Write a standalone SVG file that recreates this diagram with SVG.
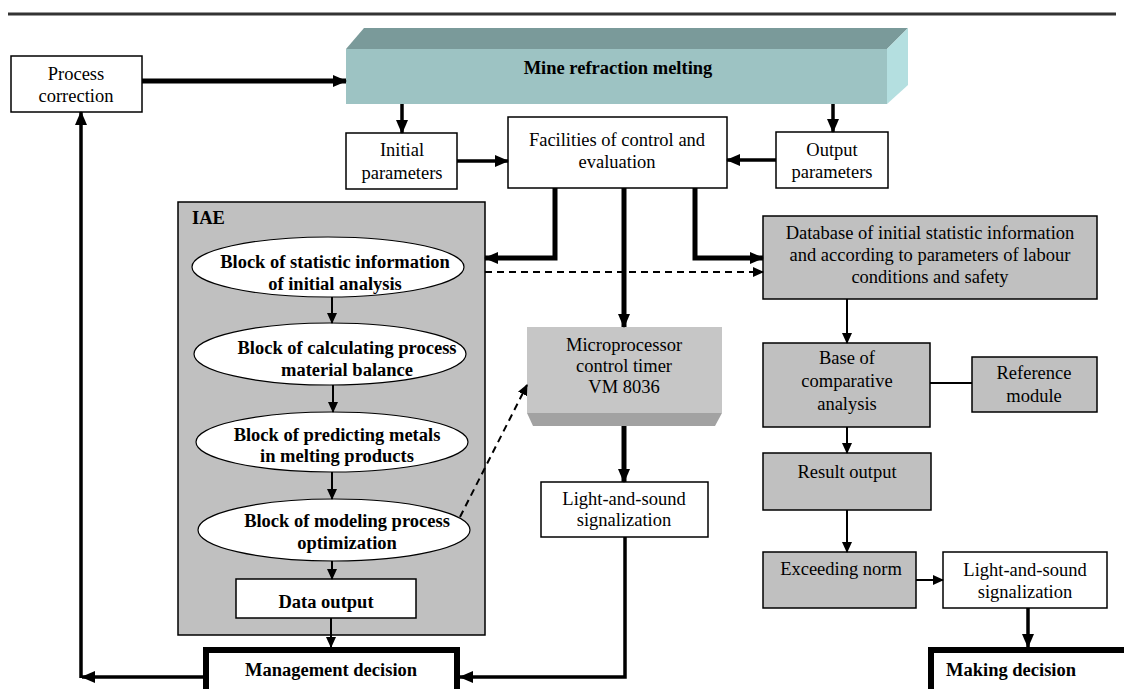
<svg xmlns="http://www.w3.org/2000/svg" width="1124" height="689" viewBox="0 0 1124 689">
<defs>
<marker id="ah" markerUnits="userSpaceOnUse" markerWidth="14" markerHeight="12" refX="13" refY="6" orient="auto"><path d="M0,0 L14,6 L0,12 Z" fill="#000"/></marker>
<marker id="ahs" markerUnits="userSpaceOnUse" markerWidth="11" markerHeight="10" refX="10" refY="5" orient="auto"><path d="M0,0 L11,5 L0,10 Z" fill="#000"/></marker>
</defs>
<style>
.t{font-family:"Liberation Serif",serif;font-size:18.5px}
.tb{font-family:"Liberation Serif",serif;font-size:18.5px;font-weight:bold}
.box{fill:#fff;stroke:#000;stroke-width:1.5}
.gbox{fill:#C0C0C0;stroke:#000;stroke-width:1.5}
.ell{fill:#fff;stroke:#000;stroke-width:1.2}
.thick{fill:none;stroke:#000;stroke-width:5}
.med{fill:none;stroke:#000;stroke-width:3.5}
.thin{fill:none;stroke:#000;stroke-width:2}
.dash{fill:none;stroke:#000;stroke-width:2;stroke-dasharray:7,5}
</style>
<rect width="1124" height="689" fill="#fff"/>
<line x1="8" y1="14" x2="1116" y2="14" stroke="#333" stroke-width="3"/>

<g id="process-correction">
<rect class="box" x="11" y="56" width="131" height="56"/>
<text class="t" x="76" y="80" text-anchor="middle">Process</text>
<text class="t" x="76" y="102" text-anchor="middle">correction</text>
</g>

<g id="mine-refraction-melting">
<polygon points="346,49 364,28 908,28 887,49" fill="#7A9A9A"/>
<polygon points="887,49 908,28 908,85 887,104" fill="#B4DFE0"/>
<rect x="346" y="49" width="541" height="55" fill="#9DC3C3"/>
<text class="tb" x="618" y="74" text-anchor="middle">Mine refraction melting</text>
</g>

<g id="initial-parameters">
<rect class="box" x="346" y="133" width="111" height="56"/>
<text class="t" x="402" y="156" text-anchor="middle">Initial</text>
<text class="t" x="402" y="179" text-anchor="middle">parameters</text>
</g>

<g id="facilities">
<rect class="box" x="508" y="117" width="219" height="71"/>
<text class="t" x="617" y="146" text-anchor="middle">Facilities of control and</text>
<text class="t" x="617" y="168" text-anchor="middle">evaluation</text>
</g>

<g id="output-parameters">
<rect class="box" x="776" y="132" width="112" height="56"/>
<text class="t" x="832" y="156" text-anchor="middle">Output</text>
<text class="t" x="832" y="178" text-anchor="middle">parameters</text>
</g>

<g id="iae">
<rect class="gbox" x="178" y="202" width="307" height="433"/>
<text class="tb" x="192" y="224">IAE</text>
</g>

<g id="block-statistic">
<ellipse class="ell" cx="328" cy="267" rx="136" ry="30"/>
<text class="tb" x="335" y="268" text-anchor="middle">Block of statistic information</text>
<text class="tb" x="335" y="290" text-anchor="middle">of initial analysis</text>
</g>

<g id="block-calculating">
<ellipse class="ell" cx="330" cy="354" rx="136" ry="31"/>
<text class="tb" x="347" y="354" text-anchor="middle">Block of calculating process</text>
<text class="tb" x="347" y="376" text-anchor="middle">material balance</text>
</g>

<g id="block-predicting">
<ellipse class="ell" cx="332" cy="442" rx="136" ry="30"/>
<text class="tb" x="337" y="441" text-anchor="middle">Block of predicting metals</text>
<text class="tb" x="337" y="462" text-anchor="middle">in melting products</text>
</g>

<g id="block-modeling">
<ellipse class="ell" cx="334" cy="530" rx="136" ry="31"/>
<text class="tb" x="347" y="527" text-anchor="middle">Block of modeling process</text>
<text class="tb" x="347" y="549" text-anchor="middle">optimization</text>
</g>

<g id="data-output">
<rect class="box" x="236" y="579" width="180" height="39"/>
<text class="tb" x="326" y="608" text-anchor="middle">Data output</text>
</g>

<g id="management-decision">
<rect x="206" y="650" width="251" height="50" fill="#fff" stroke="#000" stroke-width="6"/>
<text class="tb" x="331" y="676" text-anchor="middle">Management decision</text>
</g>

<g id="microprocessor">
<rect x="527" y="327" width="195" height="86" fill="#C6C6C6"/>
<polygon points="527,413 722,413 715,426 533,426" fill="#A2A2A2"/>
<text class="t" x="624" y="351" text-anchor="middle">Microprocessor</text>
<text class="t" x="624" y="372" text-anchor="middle">control timer</text>
<text class="t" x="624" y="393" text-anchor="middle">VM 8036</text>
</g>

<g id="light-sound-1">
<rect class="box" x="541" y="482" width="167" height="55"/>
<text class="t" x="624" y="505" text-anchor="middle">Light-and-sound</text>
<text class="t" x="624" y="526" text-anchor="middle">signalization</text>
</g>

<g id="database">
<rect class="gbox" x="763" y="216" width="334" height="83"/>
<text class="t" x="930" y="239" text-anchor="middle">Database of initial statistic information</text>
<text class="t" x="930" y="261" text-anchor="middle">and according to parameters of labour</text>
<text class="t" x="930" y="283" text-anchor="middle">conditions and safety</text>
</g>

<g id="base-comparative">
<rect class="gbox" x="763" y="343" width="167" height="84"/>
<text class="t" x="847" y="364" text-anchor="middle">Base of</text>
<text class="t" x="847" y="387" text-anchor="middle">comparative</text>
<text class="t" x="847" y="410" text-anchor="middle">analysis</text>
</g>

<g id="reference-module">
<rect class="gbox" x="972" y="357" width="125" height="55"/>
<text class="t" x="1034" y="379" text-anchor="middle">Reference</text>
<text class="t" x="1034" y="402" text-anchor="middle">module</text>
</g>

<g id="result-output">
<rect class="gbox" x="763" y="453" width="168" height="57"/>
<text class="t" x="847" y="478" text-anchor="middle">Result output</text>
</g>

<g id="exceeding-norm">
<rect class="gbox" x="763" y="552" width="153" height="56"/>
<text class="t" x="841" y="575" text-anchor="middle">Exceeding norm</text>
</g>

<g id="light-sound-2">
<rect class="box" x="943" y="552" width="164" height="56"/>
<text class="t" x="1025" y="576" text-anchor="middle">Light-and-sound</text>
<text class="t" x="1025" y="598" text-anchor="middle">signalization</text>
</g>

<g id="making-decision">
<rect x="931" y="650" width="210" height="50" fill="#fff" stroke="#000" stroke-width="6"/>
<text class="tb" x="946" y="676">Making decision</text>
</g>

<g id="connectors">
<path class="thick" d="M142,81 L346,81" marker-end="url(#ah)"/>
<path class="med" d="M402,104 L402,133" marker-end="url(#ah)"/>
<path class="med" d="M833,104 L833,132" marker-end="url(#ah)"/>
<path class="med" d="M457,161 L508,161" marker-end="url(#ah)"/>
<path class="med" d="M776,160 L727,160" marker-end="url(#ah)"/>
<path class="thick" d="M555,188 L555,258 L485,258" marker-end="url(#ah)"/>
<path class="thick" d="M695,188 L695,258 L763,258" marker-end="url(#ah)"/>
<path class="thick" d="M624,188 L624,327" marker-end="url(#ah)"/>
<path class="dash" d="M485,272 L763,272" marker-end="url(#ahs)"/>
<path class="thin" d="M332,297 L332,323" marker-end="url(#ahs)"/>
<path class="thin" d="M333,385 L333,412" marker-end="url(#ahs)"/>
<path class="thin" d="M332,472 L332,499" marker-end="url(#ahs)"/>
<path class="thin" d="M332,561 L332,579" marker-end="url(#ahs)"/>
<path class="thin" d="M331,618 L331,647" marker-end="url(#ahs)"/>
<path class="dash" d="M460,517 L527,385" marker-end="url(#ahs)"/>
<path class="thick" d="M624,426 L624,482" marker-end="url(#ah)"/>
<path class="med" d="M625,537 L625,677 L460,677" marker-end="url(#ah)"/>
<path class="med" d="M203,677 L82,677" marker-end="url(#ah)"/>
<path class="med" d="M81,678 L81,112" marker-end="url(#ah)"/>
<path class="thin" d="M847,299 L847,343" marker-end="url(#ahs)"/>
<path class="thin" d="M930,383 L972,383"/>
<path class="thin" d="M847,427 L847,453" marker-end="url(#ahs)"/>
<path class="thin" d="M847,510 L847,552" marker-end="url(#ahs)"/>
<path class="thin" d="M916,580 L943,580" marker-end="url(#ahs)"/>
<path class="med" d="M1028,608 L1028,647" marker-end="url(#ah)"/>
</g>
</svg>
